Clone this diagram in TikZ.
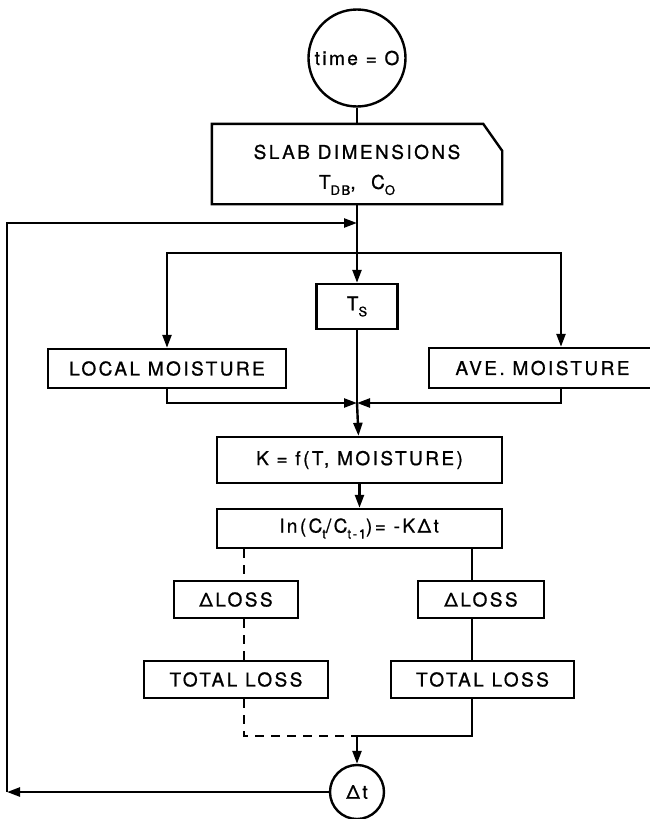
\documentclass[tikz,border=0pt]{standalone}
\usepackage{fontspec}
\newfontfamily\lbl[LetterSpace=13,FakeBold=0.9]{TeX Gyre Heros}
\usepackage{tikz}
\usetikzlibrary{arrows.meta,positioning,calc}
\newcommand\lsub[1]{\raisebox{-0.6ex}{\fontsize{13}{13}\selectfont #1}}

\begin{document}
\begin{tikzpicture}[x=1pt, y=-1pt,
  font={\lbl\fontsize{19}{21}\selectfont}, line width=2.4pt,
  box/.style={draw, inner sep=0pt, minimum height=37pt, align=center},
  rnd/.style={draw, circle, inner sep=0pt},
  arr/.style={-{Triangle[length=13pt,width=9pt]}},
  dsh/.style={dash pattern=on 9pt off 7pt}]
  \useasboundingbox (0,0) rectangle (650,819);
  % --- top ---
  \node[rnd, minimum size=97pt] (t0) at (357,58) {time = O};
  \node[inner sep=0pt, minimum width=288pt, minimum height=78pt, align=center] (slab) at (357,164)
    {\rule{0pt}{26pt}SLAB DIMENSIONS\\[9pt]T\lsub{DB}, \ C\lsub{O}};
  \draw (slab.south west) -- (slab.north west) -- ([xshift=-19pt]slab.north east)
    -- ([yshift=-27pt]slab.north east) -- (slab.south east) -- cycle;
  % --- middle row ---
  \node[box, minimum width=81pt, minimum height=45pt] (ts) at (357,306.5) {T\lsub{S}};
  \node[box, minimum width=238pt, minimum height=39pt] (loc) at (167,368.5) {LOCAL MOISTURE};
  \node[box, minimum width=227pt, minimum height=40pt] (ave) at (542.5,368) {AVE. MOISTURE};
  \node[box, minimum width=285pt, minimum height=46pt] (kf) at (359.5,460) {K = f(T, MOISTURE)};
  \node[box, minimum width=285pt, minimum height=39pt] (ln) at (359.5,528.5)
    {ln(C\lsub{t}/C\lsub{t-1})= -KΔt};
  % --- losses ---
  \node[box, minimum width=124pt] (dl1) at (236,599.5) {ΔLOSS};
  \node[box, minimum width=126pt] (dl2) at (481,599.5) {ΔLOSS};
  \node[box, minimum width=184pt] (tl1) at (236,679.5) {TOTAL LOSS};
  \node[box, minimum width=183pt] (tl2) at (482.5,679.5) {TOTAL LOSS};
  \node[rnd, minimum size=54pt] (dt) at (357,792) {Δt};
  % --- junctions ---
  \coordinate (fb)  at (7,792);
  \coordinate (jin) at (357,223);
  \coordinate (spl) at (357,253);
  \coordinate (sR)  at (561,253);
  \coordinate (mrg) at (357,403);
  \coordinate (cL)  at (244,600);
  \coordinate (cR)  at (472,600);
  \coordinate (jn)  at (357,736);
  \draw (t0) -- (slab);
  \draw[arr] (slab) -- (ts);
  \draw[arr] (spl) -| (loc.north);
  \draw[arr] (spl) -- (sR) -- (sR |- ave.north);
  \draw[arr] (loc.south) |- (mrg);
  \draw[arr] (ave.south -| sR) |- (mrg);
  \draw (ts) -- (mrg);
  \draw[arr] (mrg) -- (kf);
  \draw[arr] (kf) -- (ln);
  \draw[dsh] (ln.south -| cL) -- (dl1.north -| cL);
  \draw[dsh] (dl1.south -| cL) -- (tl1.north -| cL);
  \draw[dsh] (tl1.south -| cL) |- (jn);
  \draw (ln.south -| cR) -- (dl2.north -| cR);
  \draw (dl2.south -| cR) -- (tl2.north -| cR);
  \draw (tl2.south -| cR) |- (jn);
  \draw[arr] (jn) -- (dt);
  \draw[arr] (dt) -- (fb);
  \draw[arr] (fb) |- (jin);
\end{tikzpicture}
\end{document}
